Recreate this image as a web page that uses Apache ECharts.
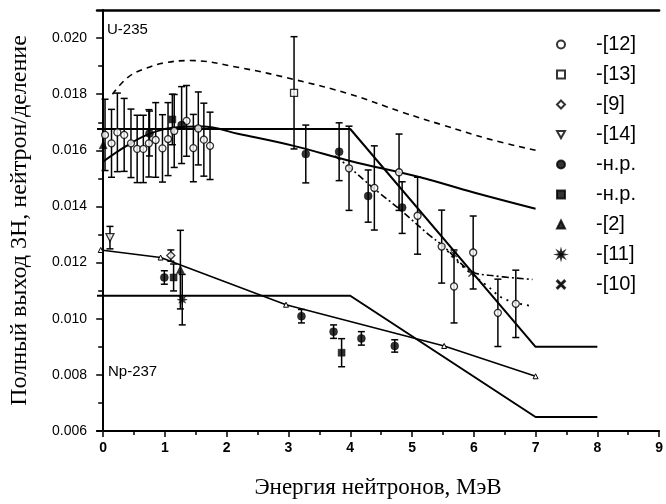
<!DOCTYPE html>
<html>
<head>
<meta charset="utf-8">
<script src="https://cdn.jsdelivr.net/npm/echarts@6/dist/echarts.min.js"></script>
<style>
  html, body { margin: 0; padding: 0; background: #fff; }
  #chart { width: 666px; height: 504px; }
</style>
</head>
<body>
<div id="chart"></div>
<script>
// Axis ticks
const xTickValues = [0, 1, 2, 3, 4, 5, 6, 7, 8, 9];
const xMinorTicks = [0.5, 1.5, 2.5, 3.5, 4.5, 5.5, 6.5, 7.5, 8.5];
const yTickValues = [0.006, 0.008, 0.010, 0.012, 0.014, 0.016, 0.018, 0.020];
const yMinorTicks = [0.007, 0.009, 0.011, 0.013, 0.015, 0.017, 0.019];

// Measured points: [energy, yield, error]
const ref12 = [
  [0.03, 0.01655, 0.00127], [0.135, 0.01625, 0.00121], [0.23, 0.01664, 0.0014],
  [0.34, 0.01655, 0.0013], [0.45, 0.01625, 0.00122], [0.55, 0.01605, 0.0012],
  [0.65, 0.01605, 0.0012], [0.74, 0.01625, 0.0012], [0.85, 0.01637, 0.00133],
  [0.96, 0.01607, 0.0012], [1.05, 0.0164, 0.0013], [1.15, 0.01669, 0.0013],
  [1.35, 0.01705, 0.00126], [1.46, 0.01608, 0.0012], [1.54, 0.01678, 0.0013],
  [1.63, 0.01638, 0.0013], [1.73, 0.01616, 0.0012],
  [3.98, 0.01536, 0.0015], [4.39, 0.01466, 0.0015], [4.79, 0.01522, 0.00136],
  [5.09, 0.01367, 0.00137], [5.48, 0.01257, 0.0013], [5.68, 0.01115, 0.0013],
  [5.99, 0.01236, 0.0013], [6.39, 0.01021, 0.0012], [6.68, 0.01053, 0.0012]
];
const ref13 = [[3.09, 0.01805, 0.002]];
const ref9 = [[1.095, 0.01225, 0.0002]];
const ref14 = [[0.11, 0.01289, 0.0004]];
const nrCircle = [
  [0.75, 0.0166, 0.0008], [1.27, 0.0169, 0.00137], [3.28, 0.01587, 0.00103],
  [3.82, 0.01595, 0.00103], [4.29, 0.01437, 0.00093], [4.84, 0.01396, 0.00092],
  [0.99, 0.01147, 0.00024], [3.21, 0.01009, 0.00024], [3.73, 0.00954, 0.00024],
  [4.18, 0.0093, 0.00024], [4.72, 0.00903, 0.00022]
];
const nrSquare = [[1.12, 0.0171, 0.0009], [1.14, 0.01147, 0.00048], [3.86, 0.00879, 0.0005]];
const ref2 = [[0.0, 0.0162, 0], [1.25, 0.01175, 0.0014]];
const ref11 = [[1.28, 0.01068, 0.0009]];
const ref10 = [[5.68, 0.0123, 0], [5.96, 0.0116, 0]];

// Calculated curves: [energy, yield]
const u235Dashed = [[0.15, 0.0180], [0.4, 0.0186], [0.7, 0.01893], [1.0, 0.01912], [1.4, 0.0192],
  [2.2, 0.01895], [3.1, 0.01852], [4.0, 0.0180], [4.84, 0.01736], [5.5, 0.0169], [6.25, 0.0164], [7.0, 0.0160]];
const u235Solid = [[0.0, 0.0156], [0.37, 0.01615], [0.71, 0.01655], [1.1, 0.0168], [1.6, 0.01685],
  [2.2, 0.01658], [3.1, 0.01615], [4.0, 0.01562], [5.1, 0.01506], [6.0, 0.0145], [7.0, 0.01392]];
const u235Step = [[-0.1, 0.01676], [4.0, 0.01676], [7.0, 0.0090], [8.0, 0.0090]];
const u235DashDot = [[3.75, 0.0158], [4.0, 0.01537], [4.35, 0.0147], [4.8, 0.0139], [5.27, 0.013],
  [5.5, 0.0126], [5.95, 0.0117], [6.25, 0.01155], [6.95, 0.0114]];
const u235Dotted = [[5.5, 0.0126], [5.8, 0.0119], [6.2, 0.0112], [6.5, 0.0107], [6.95, 0.01045]];
const np237Step = [[-0.1, 0.01082], [4.0, 0.01082], [7.0, 0.0065], [8.0, 0.0065]];
const np237Calc = [[-0.04, 0.01245], [0.93, 0.01218], [2.96, 0.0105], [5.52, 0.00903], [7.0, 0.00795]];

const legendLabels = {
  c12: '-[12]', c13: '-[13]', c9: '-[9]', c14: '-[14]', nr1: '-н.р.',
  nr2: '-н.р.', c2: '-[2]', c11: '-[11]', c10: '-[10]'
};

const SANS = 'Liberation Sans, Arial, sans-serif';
const SERIF = 'Liberation Serif, Times New Roman, serif';

const asterisk = 'path://M0,-10 L1.6,-3.8 L7,-7 L3.8,-1.6 L10,0 L3.8,1.6 L7,7 L1.6,3.8 L0,10 L-1.6,3.8 L-7,7 L-3.8,1.6 L-10,0 L-3.8,-1.6 L-7,-7 L-1.6,-3.8 Z';
const cross = 'path://M-5,-4 L-4,-5 L0,-1 L4,-5 L5,-4 L1,0 L5,4 L4,5 L0,1 L-4,5 L-5,4 L-1,0 Z';
const downTriangle = 'path://M-5,-4 L5,-4 L0,5 Z';

const openStyle = { color: '#fff', borderColor: '#000', borderWidth: 1.3 };
const fillStyle = { color: '#000', borderColor: '#000', borderWidth: 0.5 };

function pointSeries(name, data, symbol, size, style, extra) {
  return Object.assign({
    name: name, type: 'scatter', data: data.map(d => [d[0], d[1]]),
    symbol: symbol, symbolSize: size, itemStyle: style, z: 6,
    xAxisIndex: 0, yAxisIndex: 0
  }, extra || {});
}

function lineSeries(data, lineType, width, smooth, extra) {
  return Object.assign({
    type: 'line', data: data, showSymbol: false, smooth: smooth,
    lineStyle: { color: '#000', width: width, type: lineType }, z: 3,
    silent: true, xAxisIndex: 0, yAxisIndex: 0
  }, extra || {});
}

// every point that carries an error bar
const errorData = [].concat(ref12, ref13, ref9, ref14, nrCircle, nrSquare, ref2, ref11, ref10)
  .filter(d => d[2] > 0);

const chart = echarts.init(document.getElementById('chart'));

const option = {
  backgroundColor: '#fff',
  animation: false,
  grid: { left: 97, right: 5, top: 10, bottom: 70, containLabel: false },
  legend: {
    orient: 'vertical', left: 556, top: 34, padding: 0,
    itemWidth: 8, itemHeight: 8, itemGap: 9,
    data: ['c12', 'c13', 'c9', 'c14', 'nr1', 'nr2', 'c2', 'c11', 'c10'],
    formatter: n => legendLabels[n],
    textStyle: { fontFamily: SANS, fontSize: 20, color: '#000', lineHeight: 21, padding: [0, 0, 0, 26] },
    selectedMode: false
  },
  xAxis: [
    {
      type: 'value', min: -0.1, max: 9, position: 'bottom',
      name: 'Энергия нейтронов, МэВ', nameLocation: 'middle', nameGap: 45,
      nameTextStyle: { fontFamily: SERIF, fontSize: 23, color: '#000' },
      axisLine: { lineStyle: { color: '#000', width: 2 } },
      axisTick: { customValues: xTickValues, length: 6, lineStyle: { color: '#000', width: 1.5 } },
      axisLabel: { customValues: xTickValues, margin: 10, fontFamily: SANS, fontSize: 14, fontWeight: 'bold', color: '#000' },
      splitLine: { show: false }
    },
    {
      type: 'value', min: -0.1, max: 9, position: 'bottom',
      axisLine: { show: false },
      axisTick: { customValues: xMinorTicks, length: 4, lineStyle: { color: '#000', width: 1.5 } },
      axisLabel: { show: false }, splitLine: { show: false }
    },
    {
      type: 'value', min: -0.1, max: 9, position: 'top',
      axisLine: { lineStyle: { color: '#000', width: 2.5 } },
      axisTick: { show: false }, axisLabel: { show: false }, splitLine: { show: false }
    }
  ],
  yAxis: [
    {
      type: 'value', min: 0.006, max: 0.021, position: 'left',
      name: 'Полный выход 3Н, нейтрон/деление', nameLocation: 'middle', nameGap: 65,
      nameTextStyle: { fontFamily: SERIF, fontSize: 24, color: '#000' },
      axisLine: { lineStyle: { color: '#000', width: 2 } },
      axisTick: { customValues: yTickValues, length: 7, lineStyle: { color: '#000', width: 1.5 } },
      axisLabel: { customValues: yTickValues, margin: 10, fontFamily: SANS, fontSize: 14, color: '#000',
        formatter: v => v.toFixed(3) },
      splitLine: { show: false }
    },
    {
      type: 'value', min: 0.006, max: 0.021, position: 'left',
      axisLine: { show: false },
      axisTick: { customValues: yMinorTicks, length: 5, lineStyle: { color: '#000', width: 1.5 } },
      axisLabel: { show: false }, splitLine: { show: false }
    },
    {
      type: 'value', min: 0.006, max: 0.021, position: 'right',
      axisLine: { lineStyle: { color: '#000', width: 1.5 } },
      axisTick: { show: false }, axisLabel: { show: false }, splitLine: { show: false }
    }
  ],
  graphic: [
    { type: 'text', left: 107, top: 22, style: { text: 'U-235', font: '15px ' + SANS, fill: '#000' } },
    { type: 'text', left: 108, top: 364, style: { text: 'Np-237', font: '15px ' + SANS, fill: '#000' } }
  ],
  series: [
    lineSeries(u235Dashed, [6, 5], 1.6, 0.4),
    lineSeries(u235Solid, 'solid', 2, 0.4),
    lineSeries(u235Step, 'solid', 2, false),
    lineSeries(u235DashDot, [7, 3, 2, 3], 1.6, 0.4),
    lineSeries(u235Dotted, [2, 5], 1.8, 0.4),
    lineSeries(np237Step, 'solid', 2, false),
    lineSeries(np237Calc, 'solid', 1.6, false, {
      showSymbol: true, symbol: 'triangle', symbolSize: 5,
      itemStyle: { color: '#fff', borderColor: '#000', borderWidth: 1 }
    }),
    {
      type: 'custom', z: 4, silent: true, xAxisIndex: 0, yAxisIndex: 0,
      data: errorData,
      encode: { x: 0, y: 1 },
      renderItem: function (params, api) {
        const x = api.value(0), y = api.value(1), e = api.value(2);
        const top = api.coord([x, y + e]);
        const bot = api.coord([x, y - e]);
        const w = 3.5;
        const st = { stroke: '#000', lineWidth: 1.5 };
        return {
          type: 'group',
          children: [
            { type: 'line', shape: { x1: top[0], y1: top[1], x2: bot[0], y2: bot[1] }, style: st },
            { type: 'line', shape: { x1: top[0] - w, y1: top[1], x2: top[0] + w, y2: top[1] }, style: st },
            { type: 'line', shape: { x1: bot[0] - w, y1: bot[1], x2: bot[0] + w, y2: bot[1] }, style: st }
          ]
        };
      }
    },
    pointSeries('c12', ref12, 'circle', 7, openStyle),
    pointSeries('c13', ref13, 'rect', 7, openStyle),
    pointSeries('c9', ref9, 'diamond', 8, openStyle),
    pointSeries('c14', ref14, downTriangle, 8, openStyle),
    pointSeries('nr1', nrCircle, 'circle', 8, fillStyle),
    pointSeries('nr2', nrSquare, 'rect', 7, fillStyle),
    pointSeries('c2', ref2, 'triangle', 8, fillStyle),
    pointSeries('c11', ref11, asterisk, 10, fillStyle),
    pointSeries('c10', ref10, cross, 6, fillStyle)
  ]
};

chart.setOption(option);
</script>
</body>
</html>
